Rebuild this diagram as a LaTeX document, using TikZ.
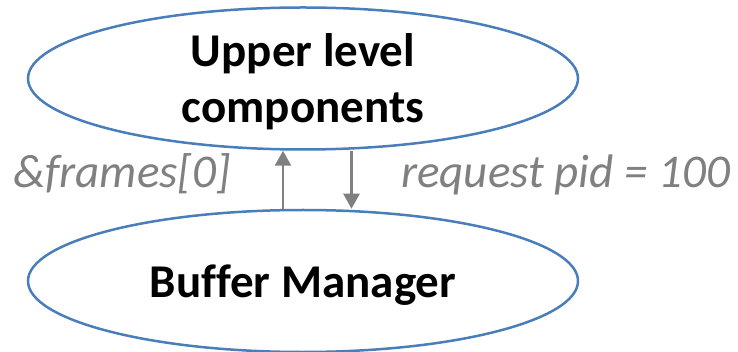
\documentclass[tikz,border=0pt]{standalone}
\usepackage{fontspec}
\setmainfont{Carlito}[Ligatures=NoCommon]
\usetikzlibrary{shapes.geometric,arrows.meta}
\definecolor{ellblue}{HTML}{4A7EBB}
\definecolor{arrgray}{HTML}{808080}
\tikzset{
  comp/.style={ellipse, draw=ellblue, line width=2.5pt, minimum width=550pt, minimum height=142pt, inner sep=0pt, font=\fontsize{47}{56}\selectfont\bfseries, align=center, text=black},
  flow/.style={draw=arrgray, line width=2.5pt, -{Triangle[length=15pt,width=16pt]}},
  lbl/.style={anchor=base west, inner sep=0pt, text=arrgray, font=\fontsize{47}{56}\selectfont\itshape}
}
\begin{document}
\begin{tikzpicture}[x=1pt,y=-1pt]
\useasboundingbox (0,0) rectangle (738,352);
\node[comp, text height=90pt, text depth=1pt] (up) at (303,78.5) {Upper level\\components};
\node[comp, text height=34pt, text depth=0pt] (bm) at (303,281) {Buffer Manager};
\draw[flow] ([xshift=-20pt]bm.north) -- ([xshift=-20pt]up.south);
\draw[flow] ([xshift=48.5pt]up.south) -- ([xshift=48.5pt]bm.north);
\node[lbl] (l1) at (13,188) {\&frames[0]};
\node[lbl] (l2) at (401,188) {request pid = 100};
\end{tikzpicture}
\end{document}
